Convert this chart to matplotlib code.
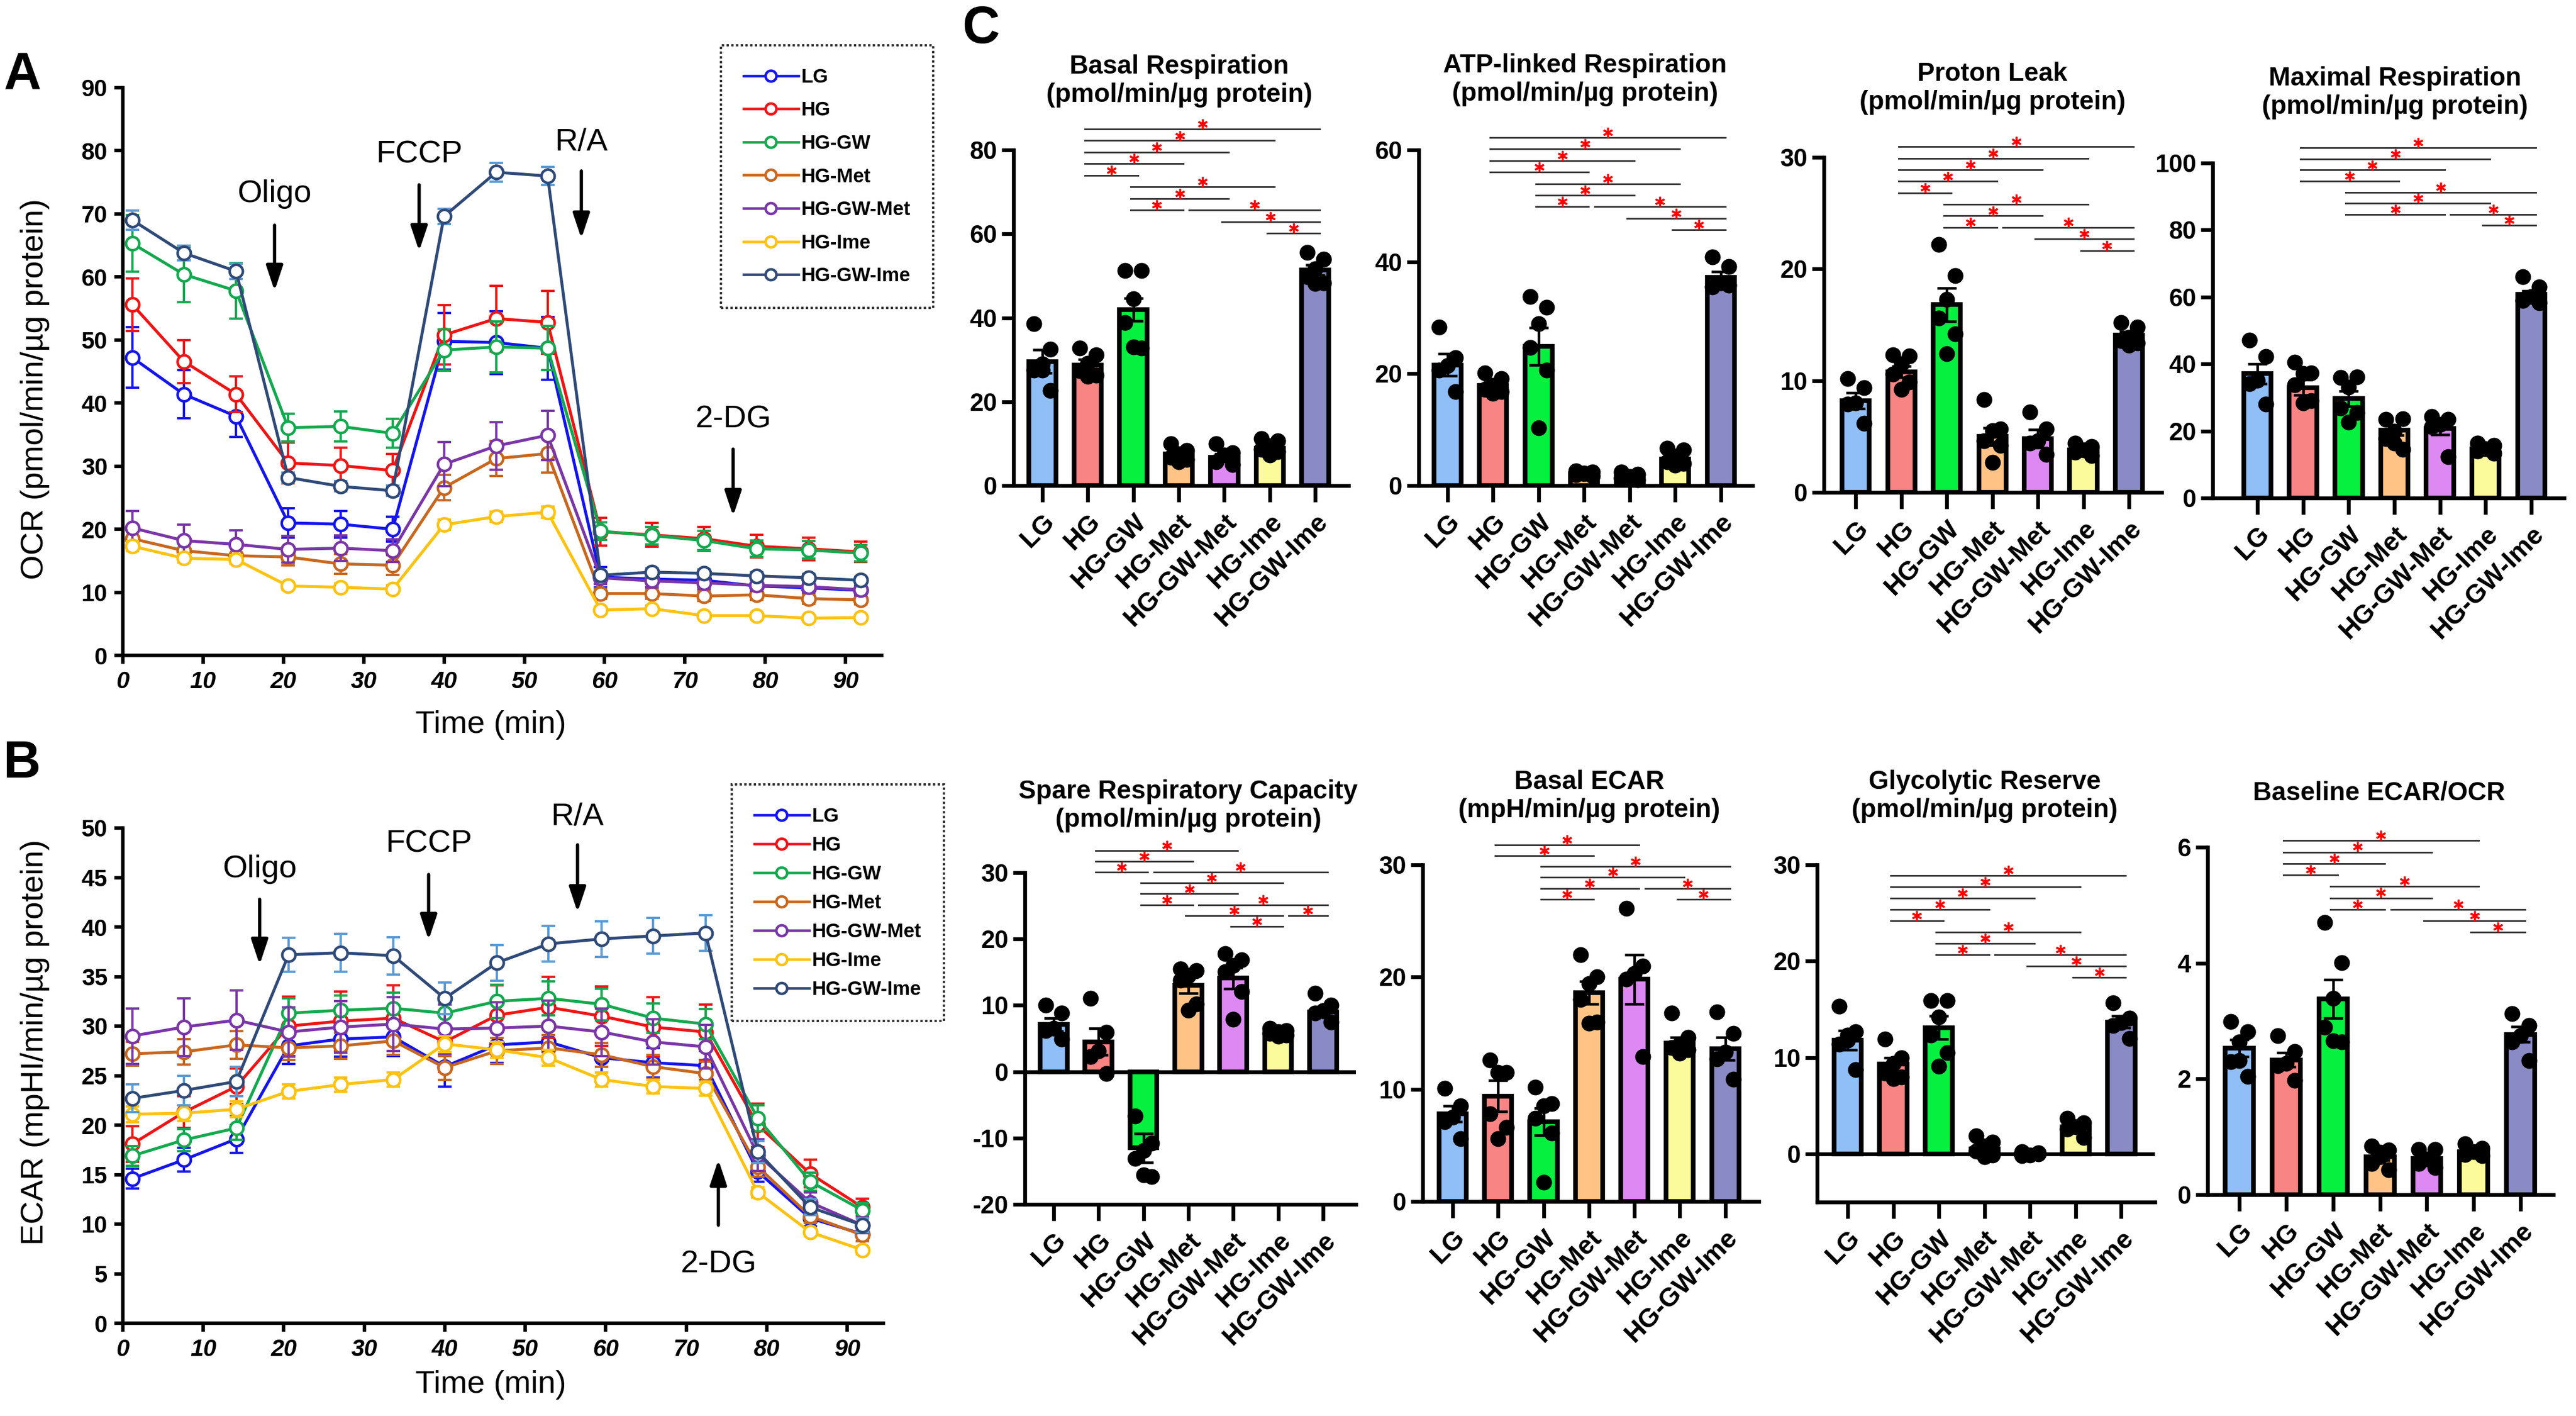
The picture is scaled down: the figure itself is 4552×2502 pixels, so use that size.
import matplotlib
matplotlib.use('Agg')
import matplotlib.pyplot as plt
from matplotlib.lines import Line2D
import numpy as np

plt.rcParams['font.family'] = ['Liberation Sans', 'DejaVu Sans']

W, H, DPI = 4552, 2502, 300

# ---------------- data ----------------
groups = ['LG', 'HG', 'HG-GW', 'HG-Met', 'HG-GW-Met', 'HG-Ime', 'HG-GW-Ime']
time_min = [1.2, 7.6, 14.1, 20.6, 27.1, 33.6, 40.0, 46.5, 52.9, 59.5, 65.9, 72.4, 78.9, 85.4, 91.9]

# OCR (panel A), mean and SEM per group
ocr_lg = [47.2, 41.4, 37.9, 21.0, 20.8, 20.0, 49.8, 49.6, 48.7, 12.4, 12.1, 11.9, 11.0, 10.7, 10.3]
ocr_hg = [55.6, 46.6, 41.4, 30.5, 30.1, 29.3, 50.8, 53.4, 52.8, 19.6, 19.1, 18.5, 17.3, 16.9, 16.4]
ocr_gw = [65.3, 60.4, 57.8, 36.1, 36.3, 35.2, 48.4, 48.9, 48.7, 19.7, 19.0, 18.2, 16.9, 16.7, 16.2]
ocr_met = [18.5, 16.6, 15.8, 15.6, 14.5, 14.3, 26.6, 31.2, 32.0, 9.8, 9.8, 9.4, 9.6, 9.0, 8.8]
ocr_gwmet = [20.2, 18.2, 17.6, 16.8, 17.0, 16.6, 30.3, 33.2, 34.9, 12.3, 11.8, 11.5, 11.1, 10.9, 10.4]
ocr_ime = [17.3, 15.4, 15.2, 11.0, 10.8, 10.5, 20.7, 22.0, 22.7, 7.2, 7.4, 6.3, 6.3, 5.9, 6.0]
ocr_gwime = [69.0, 63.8, 60.9, 28.2, 26.8, 26.1, 69.6, 76.6, 76.0, 12.7, 13.2, 13.0, 12.6, 12.3, 11.9]

ocr_lg_se = [4.8, 3.8, 3.3, 2.3, 2.1, 2.0, 4.5, 5.0, 5.0, 1.6, 1.2, 1.1, 0.9, 0.9, 0.8]
ocr_hg_se = [4.2, 3.4, 2.8, 3.2, 2.8, 2.6, 4.7, 5.2, 5.0, 2.2, 1.9, 1.9, 1.8, 1.8, 1.6]
ocr_gw_se = [4.5, 4.4, 4.4, 2.2, 2.4, 2.3, 3.3, 4.0, 3.5, 1.4, 1.4, 1.5, 1.3, 1.4, 1.3]
ocr_met_se = [1.5, 1.3, 1.3, 1.3, 1.6, 1.6, 2.0, 2.8, 3.0, 0.8, 0.8, 0.8, 0.8, 0.8, 0.7]
ocr_gwmet_se = [2.7, 2.5, 2.2, 2.1, 2.0, 1.8, 3.5, 3.8, 3.9, 1.0, 1.0, 1.0, 0.9, 0.9, 0.9]
ocr_ime_se = [0.8, 0.7, 0.7, 0.6, 0.6, 0.6, 0.8, 0.8, 0.9, 0.5, 0.5, 0.4, 0.4, 0.4, 0.4]
ocr_gwime_se = [1.5, 1.2, 1.2, 0.8, 0.8, 0.8, 1.2, 1.5, 1.4, 0.6, 0.6, 0.6, 0.6, 0.6, 0.6]

# ECAR (panel B)
ecar_lg = [14.6, 16.5, 18.6, 28.0, 28.7, 28.9, 25.9, 28.1, 28.4, 26.8, 26.3, 26.0, 15.3, 10.6, 9.0]
ecar_hg = [18.1, 21.3, 23.9, 30.0, 30.5, 30.8, 28.4, 31.1, 31.9, 31.0, 29.9, 29.4, 20.0, 15.1, 11.7]
ecar_gw = [16.9, 18.5, 19.7, 31.3, 31.6, 31.8, 31.3, 32.5, 32.8, 32.2, 30.8, 30.2, 20.7, 14.3, 11.4]
ecar_met = [27.2, 27.4, 28.1, 27.8, 28.0, 28.5, 25.8, 27.5, 27.8, 27.1, 25.9, 25.2, 15.8, 10.8, 8.9]
ecar_gwmet = [29.0, 29.9, 30.6, 29.4, 29.9, 30.2, 29.7, 29.8, 30.0, 29.4, 28.4, 27.9, 17.0, 12.2, 9.9]
ecar_ime = [21.1, 21.2, 21.6, 23.4, 24.1, 24.6, 28.2, 27.6, 26.8, 24.6, 23.9, 23.7, 13.2, 9.2, 7.4]
ecar_gwime = [22.7, 23.5, 24.4, 37.2, 37.4, 37.1, 32.8, 36.4, 38.3, 38.8, 39.1, 39.4, 17.3, 11.7, 9.9]

ecar_lg_se = [1.0, 1.2, 1.4, 1.8, 1.8, 1.9, 2.0, 1.8, 1.8, 1.5, 1.5, 1.5, 1.0, 0.8, 0.7]
ecar_hg_se = [1.8, 1.6, 1.8, 3.0, 3.0, 3.3, 3.0, 3.0, 3.1, 3.0, 3.0, 2.8, 2.2, 1.4, 0.9]
ecar_gw_se = [1.0, 1.1, 1.2, 1.5, 1.5, 1.6, 1.5, 1.7, 1.7, 1.6, 1.5, 1.5, 1.3, 0.9, 0.7]
ecar_met_se = [1.2, 1.3, 1.4, 1.2, 1.3, 1.4, 1.2, 1.3, 1.3, 1.2, 1.2, 1.2, 1.0, 0.7, 0.6]
ecar_gwmet_se = [2.8, 2.9, 3.0, 2.5, 2.6, 2.7, 2.5, 2.6, 2.6, 2.4, 2.3, 2.2, 1.6, 1.0, 0.8]
ecar_ime_se = [0.8, 0.8, 0.8, 0.7, 0.7, 0.7, 0.8, 0.8, 0.8, 0.7, 0.7, 0.7, 0.5, 0.4, 0.4]
ecar_gwime_se = [1.4, 1.5, 1.5, 1.7, 1.9, 1.9, 1.6, 1.8, 1.8, 1.8, 1.8, 1.8, 1.1, 0.8, 0.7]

# panel C: bar means, SEM, individual wells, significance pairs (i, j, row)
basal_mean = [29.6, 28.7, 41.9, 7.6, 6.8, 8.9, 51.4]
basal_sem = [2.8, 1.4, 2.7, 0.7, 0.8, 0.6, 1.2]
basal_pts = [[38.6, 32.5, 29.0, 27.5, 22.7, 27.5], [32.8, 31.1, 29.1, 27.4, 26.3, 26.0],
             [51.2, 51.2, 44.5, 38.8, 32.8, 33.0], [10.0, 8.4, 7.5, 6.7, 6.2, 5.6],
             [10.0, 7.8, 7.3, 5.6, 5.0], [11.2, 10.6, 9.5, 8.6, 8.1, 7.3],
             [55.6, 53.9, 51.7, 49.8, 48.3, 48.1]]
basal_sig = [(5, 6, 0), (4, 6, 1), (2, 3, 2), (3, 6, 2), (2, 4, 3), (2, 5, 4),
             (1, 2, 5), (1, 3, 6), (1, 4, 7), (1, 5, 8), (1, 6, 9)]

atp_mean = [21.6, 17.9, 24.9, 2.1, 1.7, 4.8, 37.2]
atp_sem = [2.0, 0.6, 3.3, 0.15, 0.2, 0.6, 1.0]
atp_pts = [[28.3, 22.9, 21.5, 20.6, 16.8], [20.1, 19.1, 17.9, 17.2, 16.8, 16.5],
           [33.8, 31.9, 28.9, 24.7, 20.6, 10.3], [2.6, 2.4, 2.1, 1.9, 1.7, 2.2],
           [2.4, 2.0, 1.6, 1.3, 1.0], [6.7, 6.4, 5.3, 4.3, 3.9, 3.6],
           [40.9, 39.2, 36.2, 35.5, 35.8]]
atp_sig = [(5, 6, 0), (4, 6, 1), (2, 3, 2), (3, 6, 2), (2, 4, 3), (2, 5, 4),
           (1, 3, 5), (1, 4, 6), (1, 5, 7), (1, 6, 8)]

leak_mean = [8.2, 10.8, 16.8, 5.0, 4.8, 3.8, 14.1]
leak_sem = [0.7, 0.5, 1.5, 0.8, 0.8, 0.2, 0.3]
leak_pts = [[10.2, 9.4, 8.0, 7.9, 6.2], [12.3, 12.2, 11.5, 10.6, 9.9, 9.2],
            [22.2, 19.4, 17.3, 15.6, 14.2, 12.4], [8.3, 5.7, 5.5, 4.6, 4.2, 2.7],
            [7.2, 5.7, 4.6, 4.4, 3.4], [4.4, 4.1, 3.8, 3.6, 3.3],
            [15.2, 14.8, 13.9, 13.6, 13.4, 13.2]]
leak_sig = [(5, 6, 0), (4, 6, 1), (2, 3, 2), (3, 6, 2), (2, 4, 3), (2, 5, 4),
            (1, 2, 5), (1, 3, 6), (1, 4, 7), (1, 5, 8), (1, 6, 9)]

max_mean = [37.1, 33.0, 29.7, 20.3, 20.8, 14.7, 60.8]
max_sem = [3.0, 2.3, 2.3, 1.5, 1.8, 0.5, 1.0]
max_pts = [[47.1, 42.2, 35.2, 34.1, 28.0], [40.6, 37.3, 37.1, 33.8, 29.0, 28.3],
           [35.9, 36.2, 33.1, 26.9, 25.5, 22.7], [23.4, 23.6, 19.9, 17.8, 14.5, 16.4],
           [24.3, 23.4, 22.0, 21.3, 12.4], [16.4, 15.7, 14.7, 14.0, 13.4],
           [66.0, 63.0, 60.1, 59.0, 58.3]]
max_sig = [(5, 6, 0), (2, 4, 1), (4, 6, 1), (2, 5, 2), (2, 6, 3), (1, 3, 4),
           (1, 4, 5), (1, 5, 6), (1, 6, 7)]

spare_mean = [7.1, 4.5, -11.5, 13.0, 14.1, 5.9, 9.0]
spare_sem = [1.0, 2.0, 2.2, 1.2, 1.6, 0.3, 0.8]
spare_pts = [[10.0, 8.8, 6.5, 6.2, 4.9], [11.1, 5.9, 3.1, 2.3, -0.3],
             [-6.7, -10.8, -11.9, -13.1, -15.8, -15.6], [15.5, 15.2, 14.5, 13.8, 10.2, 9.3],
             [17.8, 16.9, 16.0, 15.1, 12.1, 7.9], [6.5, 6.2, 6.0, 5.8, 5.5, 5.3],
             [11.8, 10.0, 9.2, 8.8, 7.5, 9.2]]
spare_sig = [(4, 5, 0), (3, 5, 1), (5, 6, 1), (2, 3, 2), (3, 6, 2), (2, 4, 3),
             (2, 5, 4), (1, 2, 5), (2, 6, 5), (1, 3, 6), (1, 4, 7)]

becar_mean = [7.8, 9.4, 7.1, 18.6, 19.8, 14.1, 13.6]
becar_sem = [0.7, 1.4, 1.2, 1.0, 2.2, 0.5, 1.0]
becar_pts = [[10.1, 8.5, 7.5, 7.1, 5.6], [12.6, 11.5, 11.5, 7.8, 6.6, 5.6],
             [10.2, 8.7, 8.5, 7.4, 6.1, 1.7], [22.0, 20.0, 19.4, 18.0, 16.0, 15.9],
             [26.1, 21.0, 20.3, 19.8, 12.9], [16.8, 14.6, 14.0, 13.7, 13.5, 13.2],
             [16.9, 15.0, 13.3, 12.7, 10.9]]
becar_sig = [(2, 3, 0), (5, 6, 0), (2, 4, 1), (4, 6, 1), (2, 5, 2), (2, 6, 3),
             (1, 3, 4), (1, 4, 5)]

glyco_mean = [11.8, 9.3, 13.1, 0.5, -0.05, 2.8, 13.7]
glyco_sem = [1.0, 0.7, 1.2, 0.35, 0.07, 0.35, 0.6]
glyco_pts = [[15.3, 12.7, 12.3, 11.4, 8.75, 11.8], [11.9, 10.0, 9.4, 8.4, 8.0, 7.8],
             [15.9, 15.9, 14.2, 12.3, 10.5, 9.1], [1.9, 1.2, 0.8, 0.3, -0.1, -0.3],
             [0.2, 0.1, -0.1, -0.2, 0.0], [3.7, 3.2, 2.8, 2.6, 1.7],
             [15.7, 14.1, 13.6, 13.3, 12.0]]
glyco_sig = [(5, 6, 0), (4, 6, 1), (2, 3, 2), (3, 6, 2), (2, 4, 3), (2, 5, 4),
             (1, 2, 5), (1, 3, 6), (1, 4, 7), (1, 5, 8), (1, 6, 9)]

ratio_mean = [2.53, 2.33, 3.38, 0.65, 0.63, 0.74, 2.77]
ratio_sem = [0.15, 0.12, 0.33, 0.05, 0.05, 0.03, 0.13]
ratio_pts = [[2.99, 2.81, 2.64, 2.30, 2.04, 2.32], [2.75, 2.47, 2.27, 2.23, 1.97],
             [4.70, 4.01, 3.39, 2.89, 2.64, 2.66], [0.84, 0.77, 0.65, 0.54, 0.43, 0.73],
             [0.78, 0.78, 0.62, 0.54, 0.47], [0.88, 0.80, 0.74, 0.69, 0.67],
             [3.13, 2.92, 2.75, 2.64, 2.32]]
ratio_sig = [(5, 6, 0), (4, 6, 1), (2, 3, 2), (3, 6, 2), (2, 4, 3), (2, 5, 4),
             (1, 2, 5), (1, 3, 6), (1, 4, 7), (1, 5, 8)]

# ---------------- styles ----------------
line_colors = ['#1414F0', '#F01414', '#13A94F', '#C8671E', '#7A36A8', '#FFC20E', '#2F4A78']
err_colors = line_colors[:-1] + ['#5B9BD5']
bar_colors = ['#90BEF7', '#F98484', '#05F03F', '#FFC485', '#DE88F4', '#FCFB9B', '#8A8AC6']


def fx(x):
    return x / W


def fy(y):
    return 1 - y / H


def box(l, r, b, t):
    return [fx(l), fy(b), fx(r) - fx(l), fy(t) - fy(b)]


fig = plt.figure(figsize=(W / DPI, H / DPI), dpi=DPI)


def trace_panel(rect, series, errors, ymax, ystep, ylabel, ylab_y, xlab_y, notes,
                leg_xy, leg_spacing):
    ax = fig.add_axes(box(*rect))
    for k, (vals, errs, col, ecol) in enumerate(zip(series, errors, line_colors, err_colors)):
        ax.errorbar(time_min, vals, yerr=errs, fmt='none', ecolor=ecol, elinewidth=1.0,
                    capsize=2.8, capthick=1.0, zorder=2 + k * 0.1)
        ax.plot(time_min, vals, color=col, lw=1.25, marker='o', ms=5.6, mfc='white',
                mec=col, mew=1.1, zorder=2.05 + k * 0.1)
    ax.set_xlim(0, 94.5)
    ax.set_ylim(0, ymax)
    ax.set_xticks(range(0, 91, 10))
    ax.set_yticks(np.arange(0, ymax + 0.1, ystep))
    ax.set_yticklabels([f'{v:g}' for v in np.arange(0, ymax + 0.1, ystep)],
                       fontweight='bold', fontsize=10)
    ax.set_xticklabels([str(v) for v in range(0, 91, 10)], fontweight='bold',
                       fontstyle='italic', fontsize=10)
    for s in ['top', 'right']:
        ax.spines[s].set_visible(False)
    for s in ['left', 'bottom']:
        ax.spines[s].set_linewidth(1.5)
    ax.tick_params(length=3.5, width=1.5, pad=3)
    fig.text(fx(62), fy(ylab_y), ylabel, rotation=90, ha='center', va='center', fontsize=13.5)
    fig.text(fx(867), fy(xlab_y), 'Time (min)', ha='center', va='center', fontsize=13.5)
    for label, x, ty, y0, y1 in notes:
        ax.text(x, ty, label, ha='center', va='center', fontsize=13.5)
        ax.annotate('', xy=(x, y1), xytext=(x, y0),
                    arrowprops=dict(arrowstyle='-|>,head_length=0.9,head_width=0.3',
                                    mutation_scale=10, lw=1.4, color='black',
                                    shrinkA=0, shrinkB=0))
    handles = [Line2D([], [], color=c, lw=1.1, marker='o', ms=4.6, mfc='white', mec=c, mew=1.1)
               for c in line_colors]
    leg = ax.legend(handles, groups, loc='upper left', bbox_to_anchor=(fx(leg_xy[0]), fy(leg_xy[1])),
                    bbox_transform=fig.transFigure, borderaxespad=0, frameon=True, fancybox=False,
                    edgecolor='black', prop=dict(weight='bold', size=8.3),
                    handlelength=2.8, handletextpad=0.15, labelspacing=leg_spacing,
                    borderpad=1.15)
    leg.get_frame().set_linestyle((0, (1, 1)))
    leg.get_frame().set_linewidth(1.0)
    return ax


trace_panel((217, 1558, 1158, 155),
            [ocr_lg, ocr_hg, ocr_gw, ocr_met, ocr_gwmet, ocr_ime, ocr_gwime],
            [ocr_lg_se, ocr_hg_se, ocr_gw_se, ocr_met_se, ocr_gwmet_se, ocr_ime_se, ocr_gwime_se],
            90, 10, 'OCR (pmol/min/µg protein)', 688, 1281,
            [('Oligo', 18.9, 73.1, 68.2, 57.8), ('FCCP', 36.9, 79.4, 74.6, 64.1),
             ('R/A', 57.1, 81.3, 76.8, 66.1), ('2-DG', 76.0, 37.4, 32.7, 22.1)],
            (1274, 80), 0.74)

trace_panel((217, 1561, 2338, 1463),
            [ecar_lg, ecar_hg, ecar_gw, ecar_met, ecar_gwmet, ecar_ime, ecar_gwime],
            [ecar_lg_se, ecar_hg_se, ecar_gw_se, ecar_met_se, ecar_gwmet_se, ecar_ime_se, ecar_gwime_se],
            50, 5, 'ECAR (mpHI/min/µg protein)', 1842, 2447,
            [('Oligo', 17.0, 45.8, 42.8, 36.2), ('FCCP', 38.0, 48.4, 45.3, 38.7),
             ('R/A', 56.5, 51.1, 48.3, 41.5), ('2-DG', 74.0, 5.9, 9.9, 16.5)],
            (1293, 1386), 0.52)

# ---------------- bar panels ----------------
jitter = [-0.18, 0.18, 0.0, -0.18, 0.18, 0.0]


def bar_panel(rect, title, tpos, means, sems, pts, sig, ylim, yticks, xlim, base, step):
    ax = fig.add_axes(box(*rect))
    x = np.arange(len(groups))
    ax.bar(x, means, width=0.6, color=bar_colors, edgecolor='black', linewidth=2.0, zorder=2)
    for i, vals in enumerate(pts):
        ax.scatter(i + np.array(jitter[:len(vals)]), vals, s=45, color='black', zorder=3,
                   clip_on=False, linewidths=0)
    ax.errorbar(x, means, yerr=sems, fmt='none', ecolor='black', elinewidth=1.1,
                capsize=4, capthick=1.1, zorder=4)
    if ylim[0] < 0:
        ax.axhline(0, color='black', lw=1.6, zorder=2.5)
    ax.set_xlim(*xlim)
    ax.set_ylim(*ylim)
    ax.set_yticks(yticks)
    ax.set_yticklabels([f'{v:g}' for v in yticks], fontweight='bold', fontsize=10.5)
    ax.set_xticks(x)
    ax.set_xticklabels(groups, rotation=45, ha='right', rotation_mode='anchor',
                       fontweight='bold', fontsize=11.2)
    for s in ['top', 'right']:
        ax.spines[s].set_visible(False)
    for s in ['left', 'bottom']:
        ax.spines[s].set_linewidth(1.6)
    ax.tick_params(axis='y', length=5, width=1.6, pad=2)
    ax.tick_params(axis='x', length=7, width=1.6, pad=3)

    trans = ax.get_xaxis_transform()
    last_end = {}
    for i, j, r in sorted(sig, key=lambda c: (c[2], c[0])):
        y = base + r * step
        x0 = i - 0.06
        if r in last_end and x0 < last_end[r] + 0.1:
            x0 = last_end[r] + 0.13
        x1 = j + 0.1
        last_end[r] = x1
        ax.plot([x0, x1], [y, y], transform=trans, color='#333333', lw=0.7, clip_on=False)
        ax.plot((x0 + x1) / 2, y + 0.015, transform=trans, marker=(6, 2, 0), ms=4.2,
                mew=0.8, color='red', clip_on=False)
    fig.text(fx(tpos[0]), fy(tpos[1]), title, ha='center', va='center', fontsize=11,
             fontweight='bold', linespacing=1.2)
    return ax


bar_panel((1791, 2383, 858, 265), 'Basal Respiration\n(pmol/min/µg protein)', (2084, 143),
          basal_mean, basal_sem, basal_pts, basal_sig, (0, 80), [0, 20, 40, 60, 80],
          (-0.63, 6.73), 0.752, 0.0345)
bar_panel((2507, 3097, 858, 265), 'ATP-linked Respiration\n(pmol/min/µg protein)', (2801, 141),
          atp_mean, atp_sem, atp_pts, atp_sig, (0, 60), [0, 20, 40, 60],
          (-0.63, 6.70), 0.762, 0.0344)
bar_panel((3223, 3820, 870, 278), 'Proton Leak\n(pmol/min/µg protein)', (3521, 156),
          leak_mean, leak_sem, leak_pts, leak_sig, (0, 30), [0, 10, 20, 30],
          (-0.70, 6.72), 0.722, 0.0344)
bar_panel((3910, 4531, 880, 288), 'Maximal Respiration\n(pmol/min/µg protein)', (4232, 164),
          max_mean, max_sem, max_pts, max_sig, (0, 100), [0, 20, 40, 60, 80, 100],
          (-0.98, 6.72), 0.814, 0.033)
bar_panel((1811, 2396, 2128, 1542), 'Spare Respiratory Capacity\n(pmol/min/µg protein)', (2100, 1424),
          spare_mean, spare_sem, spare_pts, spare_sig, (-20, 30), [-20, -10, 0, 10, 20, 30],
          (-0.64, 6.73), 0.838, 0.0327)
bar_panel((2514, 3108, 2123, 1528), 'Basal ECAR\n(mpH/min/µg protein)', (2808, 1407),
          becar_mean, becar_sem, becar_pts, becar_sig, (0, 30), [0, 10, 20, 30],
          (-0.66, 6.74), 0.898, 0.0322)
bar_panel((3211, 3808, 2124, 1528), 'Glycolytic Reserve\n(pmol/min/µg protein)', (3507, 1407),
          glyco_mean, glyco_sem, glyco_pts, glyco_sig, (-5, 30), [0, 10, 20, 30],
          (-0.67, 6.74), 0.666, 0.0336)
bar_panel((3901, 4512, 2111, 1497), 'Baseline ECAR/OCR', (4204, 1401),
          ratio_mean, ratio_sem, ratio_pts, ratio_sig, (0, 6), [0, 2, 4, 6],
          (-0.68, 6.70), 0.755, 0.033)

# panel letters
for letter, px, py in [('A', 40, 133), ('B', 39, 1350), ('C', 1733, 52)]:
    fig.text(fx(px), fy(py), letter, ha='center', va='center', fontsize=22, fontweight='bold')

fig.savefig('out.png', dpi=DPI, facecolor='white')
